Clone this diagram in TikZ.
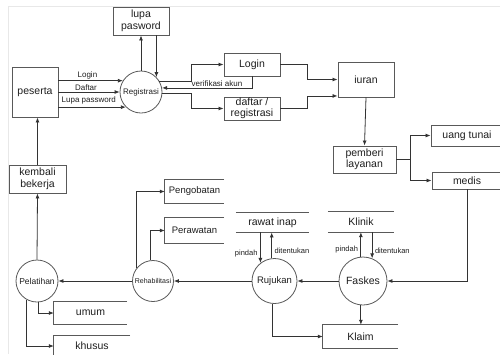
\documentclass[tikz,border=0pt]{standalone}
\usepackage{fontspec}
\setmainfont{Liberation Sans}
\usetikzlibrary{arrows.meta,calc}

\begin{document}
\begin{tikzpicture}[x=1pt,y=-1pt,
  every node/.style={text=black!88},
  txt/.style={font=\fontsize{10.5}{11.5}\selectfont},
  box/.style={txt, draw=black!65, line width=0.9pt, rectangle, inner sep=0pt, align=center},
  store/.style={txt, rectangle, inner sep=0pt, align=center},
  proc/.style={draw=black!65, line width=0.8pt, circle, inner sep=0pt, align=center},
  flow/.style={draw=black!80, line width=0.8pt, -{Latex[length=5pt,width=4pt]}},
  edgeline/.style={draw=black!65, line width=0.9pt},
  lbl/.style={font=\fontsize{8}{9}\selectfont, inner sep=1.5pt},
  small/.style={font=\fontsize{7.5}{9}\selectfont, inner xsep=2.5pt, inner ysep=1pt}
]
\useasboundingbox (0,0) rectangle (500,354);
\fill[white] (0,0) rectangle (500,354);
\clip (0,0) rectangle (500,354);

% faint page frame
\draw[black!9, line width=0.8pt] (8,354) -- (8,6) -- (500,6);

% bend points of the elbow connectors
\coordinate (bendA) at (191,0);
\coordinate (bendB) at (307,0);
\coordinate (bendC) at (410,0);
\coordinate (bendD) at (467,0);

% external entities and outputs
\node[box, minimum width=46, minimum height=50] (peserta) at (35,92) {peserta};
\node[box, minimum width=56, minimum height=28] (lupa) at (141,21) {lupa\\pasword};
\node[box, minimum width=56, minimum height=23] (login) at (252,64.5) {Login};
\node[box, minimum width=56, minimum height=23] (daftar) at (252,108.5) {daftar /\\registrasi};
\node[box, minimum width=56, minimum height=35] (iuran) at (366,79.5) {iuran};
\node[box, minimum width=63, minimum height=27] (pemberi) at (364.5,159.5) {pemberi\\layanan};
\node[box, minimum width=72, minimum height=21] (uang) at (467,135.5) {uang tunai};
\node[box, minimum width=70, minimum height=17] (medis) at (467,180.5) {medis};
\node[box, minimum width=57, minimum height=28] (kembali) at (37.5,179) {kembali\\bekerja};

% processes
\node[proc, minimum size=42, font=\fontsize{8}{9}\selectfont] (reg) at (141,92) {Registrasi};
\node[proc, minimum size=48, font=\fontsize{10.5}{12}\selectfont] (faskes) at (363,281) {Faskes};
\node[proc, minimum size=45, font=\fontsize{9.5}{11}\selectfont] (rujukan) at (274.5,281) {Rujukan};
\node[proc, minimum size=41, font=\fontsize{7}{8}\selectfont] (rehab) at (153,281) {Rehabilitasi};
\node[proc, minimum size=42, font=\fontsize{8.5}{10}\selectfont] (pelatihan) at (37,281) {Pelatihan};

% data stores
\node[store, minimum width=66, minimum height=20] (klinik) at (361,222) {Klinik};
\node[store, minimum width=73, minimum height=19.5] (rawat) at (272.5,222.5) {rawat inap};
\node[store, minimum width=75, minimum height=23] (klaim) at (360.5,336.5) {Klaim};
\node[store, minimum width=59, minimum height=23, font=\fontsize{9.5}{11}\selectfont] (pengobatan) at (194.5,191.5) {Pengobatan};
\node[store, minimum width=59, minimum height=25, font=\fontsize{9.5}{11}\selectfont] (perawatan) at (194.5,230.5) {Perawatan};
\node[store, minimum width=73, minimum height=22] (umum) at (90.5,313) {umum};
\node[store, minimum width=76, minimum height=20] (khusus) at (92,346) {khusus};

\draw[edgeline] (klinik.north west) -- (klinik.north east) (klinik.south west) -- (klinik.south east);
\draw[edgeline] (rawat.north west) -- (rawat.north east) (rawat.south west) -- (rawat.south east);
\foreach \s in {klaim,pengobatan,perawatan,umum,khusus}
  \draw[edgeline] (\s.north east) -- (\s.north west) -- (\s.south west) -- (\s.south east);

% registration flows
\draw[flow] (reg.148.4 -| peserta.east) -- (reg.148.4) node[lbl, pos=0.45, above] {Login};
\draw[flow] (reg.west -| peserta.east) -- (reg.west) node[lbl, pos=0.45, above] {Daftar};
\draw[flow] (reg.225.6 -| peserta.east) -- (reg.225.6) node[lbl, pos=0.45, above=1.5pt] {Lupa password};
\draw[flow] (reg.north) -- (reg.north |- lupa.south);
\draw[flow] (reg.44.4 |- lupa.south) -- (reg.44.4);
\draw[flow] (reg.31.6) -- (reg.31.6 -| bendA) |- (login.west);
\draw[flow] (login.south) |- (reg.11);
\path (login.south |- reg.11) ++(-35,0) node[lbl, above] (verif) {verifikasi akun};
\draw[flow] (reg.-5) -- (reg.-5 -| bendA) |- (daftar.west);

% contributions and services
\draw[flow] (login.east) -- (login.east -| bendB) |- (iuran.west);
\draw[flow] (daftar.east) -- (daftar.east -| bendB) |- ($(iuran.south west)+(0,-1.5)$);
\draw[flow] (iuran.south) -- (pemberi.north);
\draw[flow] (pemberi.east) -- (pemberi.east -| bendC) |- (uang.west);
\draw[flow] (pemberi.east -| bendC) |- (medis.west);
\draw[flow] (medis.south -| bendD) |- (faskes.east);

% treatment chain
\draw[flow] (faskes.west) -- (rujukan.east);
\draw[flow] (rujukan.west) -- (rehab.east);
\draw[flow] (rehab.west) -- (pelatihan.east);
\draw[flow] (pelatihan.north) -- (kembali.south);
\draw[flow] (kembali.north) -- (kembali.north |- peserta.south);

\draw[flow] (faskes.95) -- (faskes.95 |- klinik.south) node[small, pos=0.3, left] {pindah};
\draw[flow] (faskes.68 |- klinik.south) -- (faskes.68) node[small, pos=0.7, right] {ditentukan};
\draw[flow] (rujukan.128.5 |- rawat.south) -- (rujukan.128.5) node[small, pos=0.7, left] {pindah};
\draw[flow] (rujukan.97.7) -- (rujukan.97.7 |- rawat.south) node[small, pos=0.3, right] {ditentukan};
\draw[flow] (rujukan.264) |- (klaim.west);
\draw[flow] (faskes.265) -- (faskes.265 |- klaim.north);

\draw[flow] (rehab.141.3) |- (pengobatan.west);
\draw[flow] (rehab.98.4) |- (perawatan.west);
\draw[flow] (pelatihan.273) |- (umum.west);
\draw[flow] (pelatihan.241.6) |- (khusus.west);
\end{tikzpicture}
\end{document}
